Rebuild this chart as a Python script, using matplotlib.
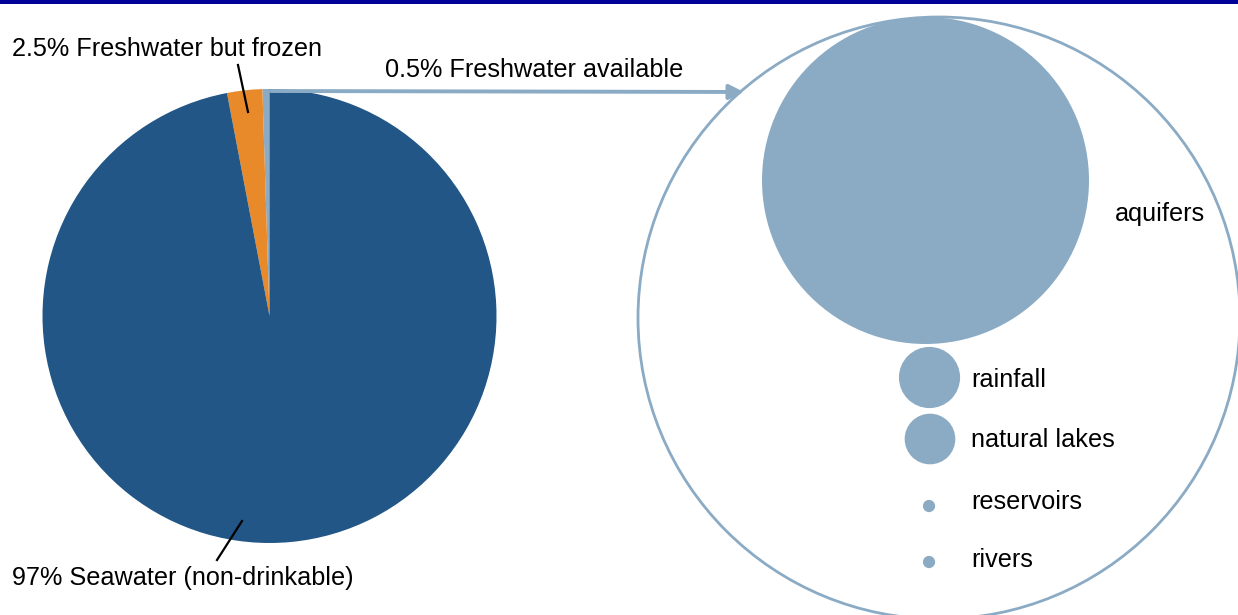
import matplotlib.pyplot as plt
from matplotlib.patches import Circle, Rectangle

plt.rcParams['font.family'] = ['Liberation Sans', 'DejaVu Sans']

# Share of all water on Earth (%)
water_labels = ['0.5% Freshwater available', '2.5% Freshwater but frozen', '97% Seawater (non-drinkable)']
water_share = [0.5, 2.5, 97]
water_colors = ['#8babc5', '#e8892a', '#215686']

# Sources of the available freshwater (relative volume, aquifers = 100)
source_names = ['aquifers', 'rainfall', 'natural lakes', 'reservoirs', 'rivers']
source_volume = [100, 3.5, 2.4, 0.14, 0.14]

bubble_color = '#8babc5'
W, H = 1238, 615

fig = plt.figure(figsize=(W / 100, H / 100), dpi=100)
ax = fig.add_axes([0, 0, 1, 1])

def y(v):
    # flip to top-down pixel rows
    return H - v

# pie of all water
pie_c = (269.5, y(316))
pie_r = 227
ax.pie(water_share, colors=water_colors, startangle=90, counterclock=True,
       center=pie_c, radius=pie_r, frame=True,
       wedgeprops=dict(linewidth=0))
ax.set_xlim(0, W)
ax.set_ylim(0, H)
ax.set_aspect('equal')
ax.axis('off')

fs = 18.2
ax.text(12, y(49), water_labels[1], fontsize=fs, va='center', ha='left')
ax.plot([238, 248], [y(65), y(112)], color='black', lw=1.6)
ax.text(12, y(578), water_labels[2], fontsize=fs, va='center', ha='left')
ax.plot([242, 217], [y(521), y(560)], color='black', lw=1.6)
ax.text(385, y(70), water_labels[0], fontsize=fs, va='center', ha='left')

# arrow leading from the available slice to the bubble chart
ax.annotate('', xy=(744, y(92)), xytext=(271, y(91)),
            arrowprops=dict(arrowstyle='-|>', color=bubble_color, lw=2.8,
                            mutation_scale=22, shrinkA=0, shrinkB=0))

# enclosing circle
ax.add_patch(Circle((939, y(318)), 301, facecolor='white', edgecolor=bubble_color,
                    lw=2, zorder=2))

# bubbles, area proportional to volume
r_max = 163.5
bubble_x = [925.5, 929.5, 930, 929, 929]
bubble_y = [180.5, 377.5, 439, 506, 562]
label_x = [1115, 971, 971, 971, 971]
label_y = [214, 380, 440, 502, 560]
for name, vol, bx, by, lx, ly in zip(source_names, source_volume, bubble_x, bubble_y, label_x, label_y):
    r = r_max * (vol / source_volume[0]) ** 0.5
    ax.add_patch(Circle((bx, y(by)), r, facecolor=bubble_color, edgecolor='none', zorder=3))
    ax.text(lx, y(ly), name, fontsize=fs, va='center', ha='left', zorder=4)

# top band
ax.add_patch(Rectangle((0, H - 4), W, 4, facecolor='#000099', edgecolor='none', zorder=5))

fig.savefig('out.png', dpi=100)
